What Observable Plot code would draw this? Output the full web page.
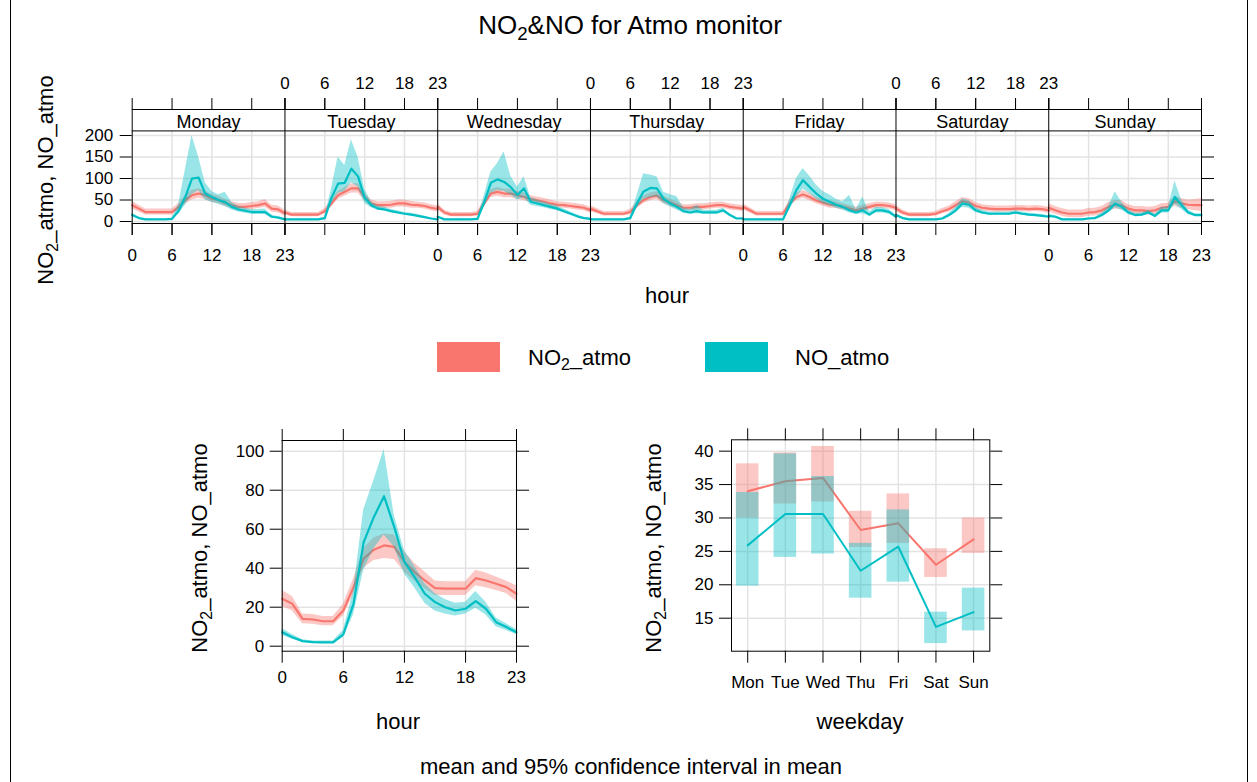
<!DOCTYPE html>
<html><head><meta charset="utf-8">
<script src="https://cdn.jsdelivr.net/npm/d3@7"></script>
<script src="https://cdn.jsdelivr.net/npm/@observablehq/plot@0.6"></script>
<style>
body{margin:0;background:#fff;font-family:"Liberation Sans",Arial,sans-serif;}
#page{position:relative;width:1257px;height:782px;overflow:hidden;background:#fff;}
.abs{position:absolute;}
.txt{position:absolute;white-space:nowrap;color:#000;transform:translate(-50%,-50%);line-height:1;}
.rot{transform:translate(-50%,-50%) rotate(-90deg);}
sub{font-size:0.72em;vertical-align:-0.3em;line-height:0;}
svg{overflow:visible;}
</style></head><body>
<div id="page">
  <div class="abs" style="left:10px;top:-1px;width:1236px;height:800px;border:1px solid #000;"></div>
  <div class="txt" style="left:630px;top:25px;font-size:26px;">NO<sub>2</sub>&amp;NO for Atmo monitor</div>
  <div id="topPlot" class="abs" style="left:0;top:60px;"></div>
  <div class="txt rot" style="left:46px;top:180px;font-size:22px;">NO<sub>2</sub>_atmo, NO_atmo</div>
  <div class="txt" style="left:667px;top:296px;font-size:22px;">hour</div>
  <div class="abs" style="left:437px;top:342px;width:63px;height:30px;background:#F8766D;"></div>
  <div class="abs" style="left:528px;top:345px;font-size:22px;white-space:nowrap;">NO<sub>2</sub>_atmo</div>
  <div class="abs" style="left:705px;top:342px;width:63px;height:30px;background:#00BFC4;"></div>
  <div class="abs" style="left:795px;top:345px;font-size:22px;white-space:nowrap;">NO_atmo</div>
  <div id="hourPlot" class="abs" style="left:180px;top:420px;"></div>
  <div id="wdayPlot" class="abs" style="left:620px;top:420px;"></div>
  <div class="txt rot" style="left:200px;top:548px;font-size:22px;">NO<sub>2</sub>_atmo, NO_atmo</div>
  <div class="txt rot" style="left:654px;top:548px;font-size:22px;">NO<sub>2</sub>_atmo, NO_atmo</div>
  <div class="txt" style="left:398px;top:722px;font-size:22px;">hour</div>
  <div class="txt" style="left:860px;top:722px;font-size:22px;">weekday</div>
  <div class="txt" style="left:631px;top:767px;font-size:22px;">mean and 95% confidence interval in mean</div>
</div>
<script>
// ---------- categories & ticks ----------
const days = ["Monday","Tuesday","Wednesday","Thursday","Friday","Saturday","Sunday"];
const dayAbbr = ["Mon","Tue","Wed","Thu","Fri","Sat","Sun"];
const hours = [0,1,2,3,4,5,6,7,8,9,10,11,12,13,14,15,16,17,18,19,20,21,22,23];
const hourTicks = [0,6,12,18,23];
const yTicksTop = [0,50,100,150,200];
const yTicksHour = [0,20,40,60,80,100];
const yTicksWday = [15,20,25,30,35,40];
const RED = "#F8766D", TEAL = "#00BFC4";

// ---------- top panel: hour by weekday ----------
const no2_Mon   = [38,30,22,22,22,22,22,34,50,61,65,61,53,50,43,38,34,34,36,38,42,30,28,19];
const no2hw_Mon = [9,8,7,7,7,7,7,8,10,11,11,10,9,9,8,8,8,8,8,8,9,8,8,7];
const no_Mon    = [15,8,5,5,5,5,6,25,57,100,102,65,57,50,45,34,28,25,22,22,22,11,9,5];
const noLo_Mon  = [12,6,4,4,4,4,5,17,38,62,72,50,45,40,35,27,22,19,17,17,16,8,7,4];
const noHi_Mon  = [19,10,6,6,6,6,8,40,120,200,150,90,70,62,68,44,35,31,28,28,29,15,11,7];

const no2_Tue   = [21,16,16,16,16,16,24,42,61,69,77,77,57,42,38,38,39,42,42,39,38,36,32,29];
const no2hw_Tue = [6,5,5,5,5,5,6,8,9,10,11,11,9,8,8,8,8,8,8,8,7,7,7,7];
const no_Tue    = [5,5,5,5,5,5,8,55,88,90,123,105,55,38,30,28,24,21,18,16,13,10,7,5];
const noLo_Tue  = [4,4,4,4,4,4,6,40,65,70,90,80,42,32,26,24,20,18,15,13,11,8,6,4];
const noHi_Tue  = [6,6,6,6,6,6,10,75,150,130,190,150,75,46,36,33,28,25,21,19,16,12,8,6];

const no2_Wed   = [34,21,16,16,16,16,18,42,65,69,65,65,61,57,52,49,46,42,39,38,36,34,32,26];
const no2hw_Wed = [7,6,5,5,5,5,5,8,9,10,10,10,9,9,8,8,8,8,7,7,7,7,7,7];
const no_Wed    = [11,5,5,5,5,5,6,45,90,98,92,80,62,77,46,42,38,34,30,24,18,12,8,6];
const noLo_Wed  = [9,4,4,4,4,4,5,32,65,72,70,62,50,55,38,35,32,28,25,20,15,10,7,5];
const noHi_Wed  = [13,6,6,6,6,6,8,60,115,135,162,105,80,104,56,50,45,40,36,29,22,15,10,8];

const no2_Thu   = [30,24,18,18,18,18,22,38,50,57,60,50,44,38,32,32,34,34,36,38,38,34,32,30];
const no2hw_Thu = [7,6,5,5,5,5,6,8,9,9,9,9,8,8,7,7,7,7,7,7,7,7,7,7];
const no_Thu    = [5,5,5,5,5,5,8,42,70,78,77,53,42,34,24,21,24,21,21,21,26,15,7,7];
const noLo_Thu  = [4,4,4,4,4,4,6,30,52,55,58,42,34,27,19,17,18,17,17,17,21,12,6,6];
const noHi_Thu  = [6,6,6,6,6,6,10,60,111,108,104,68,62,58,32,28,38,26,26,26,31,18,8,8];

const no2_Fri   = [34,26,18,18,18,18,18,42,57,63,57,49,44,39,38,34,30,26,30,34,38,38,36,32];
const no2hw_Fri = [7,6,5,5,5,5,5,8,9,9,9,8,8,8,8,7,7,7,7,7,7,7,7,7];
const no_Fri    = [5,5,5,5,5,5,5,38,73,96,80,65,53,46,39,34,26,21,26,16,26,26,22,11];
const noLo_Fri  = [4,4,4,4,4,4,4,28,55,75,65,52,42,37,31,27,20,16,18,12,20,20,17,8];
const noHi_Fri  = [6,6,6,6,6,6,6,52,100,123,105,85,70,62,52,46,61,28,57,22,33,32,28,14];

const no2_Sat   = [30,21,16,16,16,16,18,24,29,38,47,44,36,32,30,29,29,29,30,30,29,30,29,26];
const no2hw_Sat = [7,6,5,5,5,5,5,6,7,8,9,9,8,7,7,7,7,7,7,7,7,7,7,7];
const no_Sat    = [15,8,5,5,5,5,5,7,15,26,42,39,26,21,18,18,18,18,21,18,16,15,13,11];
const noLo_Sat  = [12,6,4,4,4,4,4,5,11,20,33,31,21,17,15,15,15,15,17,15,13,12,11,9];
const noHi_Sat  = [18,10,6,6,6,6,6,9,19,33,53,48,32,26,22,22,22,22,25,22,19,18,16,13];

const no2_Sun   = [32,26,21,18,18,18,21,22,26,34,39,38,30,26,26,24,26,32,34,47,42,39,38,38];
const no2hw_Sun = [9,9,9,9,9,9,9,9,9,10,10,10,9,9,9,9,9,9,9,11,11,11,13,15];
const no_Sun    = [13,11,5,5,5,5,7,8,15,26,42,34,21,15,16,21,13,26,26,57,38,21,15,15];
const noLo_Sun  = [10,8,4,4,4,4,5,6,11,19,32,26,16,12,13,17,10,20,20,40,28,16,12,12];
const noHi_Sun  = [16,14,6,6,6,6,9,10,20,34,69,45,27,19,20,26,17,33,33,94,50,27,18,18];

// ---------- bottom-left: hour of day ----------
const no2Hour   = [24.3,21.7,14,13.7,12.8,12.8,18.3,30.3,44.9,49.5,51.7,50.9,43.2,38,33.7,29.8,29.5,29.5,29.5,34.9,33.7,32,30.3,26.9];
const no2HourLo = [20.5,18,11.5,11.3,10.5,10.5,15.5,26.5,40,44,45,44.5,38,33.5,29.5,26,26,26,26,31,30,28.5,27,23];
const no2HourHi = [28.5,25.5,16.5,16.2,15.2,15.2,21.5,34.5,50,55.5,57.5,57,48.5,42.5,38,33.5,33,33,33,39,37.5,35.5,33.5,31];
const noHour    = [7.2,4.6,2.6,2.1,2,2,6,21.7,53.4,66.3,76.9,61.1,43.2,35.4,26.9,22.6,20,18.3,19.2,23.1,19.2,12.3,9.8,7.2];
const noHourLo  = [5.5,3.5,2,1.6,1.5,1.5,4.5,16,39,50,57,51,37,30,22,18,16.5,15.5,16.5,19.5,16,10,8,6];
const noHourHi  = [9,6,3.3,2.7,2.6,2.6,8,28,70,85,101,67,49,41,32,27,24,22,22.5,28,22.5,14.5,11.5,8.5];

// ---------- bottom-right: weekday ----------
const no2Wday   = [34.0,35.5,36.0,28.2,29.2,23.0,26.8];
const no2WdayLo = [30.0,32.1,32.4,25.6,26.2,21.1,24.7];
const no2WdayHi = [38.1,39.75,40.7,31.0,33.6,25.4,30.0];
const noWday    = [25.9,30.6,30.6,22.1,25.7,13.7,15.9];
const noWdayLo  = [19.8,24.1,24.6,18.0,20.4,11.2,13.1];
const noWdayHi  = [33.8,39.6,36.2,26.2,31.2,15.9,19.5];

// ---------- build tables ----------
const no2ByDay = [[no2_Mon,no2hw_Mon],[no2_Tue,no2hw_Tue],[no2_Wed,no2hw_Wed],[no2_Thu,no2hw_Thu],[no2_Fri,no2hw_Fri],[no2_Sat,no2hw_Sat],[no2_Sun,no2hw_Sun]];
const noByDay = [[no_Mon,noLo_Mon,noHi_Mon],[no_Tue,noLo_Tue,noHi_Tue],[no_Wed,noLo_Wed,noHi_Wed],[no_Thu,noLo_Thu,noHi_Thu],[no_Fri,noLo_Fri,noHi_Fri],[no_Sat,noLo_Sat,noHi_Sat],[no_Sun,noLo_Sun,noHi_Sun]];
const SPAN = hours[hours.length-1]; // 23 hours per panel
const topNO2 = [], topNO = [];
days.forEach((d, i) => {
  const [m, hw] = no2ByDay[i];
  const [n, lo, hi] = noByDay[i];
  hours.forEach((h, k) => {
    topNO2.push({x: i*SPAN + h, day: d, y: m[k], lo: m[k]-hw[k], hi: m[k]+hw[k]});
    topNO.push({x: i*SPAN + h, day: d, y: n[k], lo: lo[k], hi: hi[k]});
  });
});
const hourNO2 = hours.map((h,k)=>({h, y:no2Hour[k], lo:no2HourLo[k], hi:no2HourHi[k]}));
const hourNO  = hours.map((h,k)=>({h, y:noHour[k], lo:noHourLo[k], hi:noHourHi[k]}));
const wdNO2 = dayAbbr.map((d,i)=>({i, d, y:no2Wday[i], lo:no2WdayLo[i], hi:no2WdayHi[i]}));
const wdNO  = dayAbbr.map((d,i)=>({i, d, y:noWday[i], lo:noWdayLo[i], hi:noWdayHi[i]}));

const FS = 17;
const STYLE = {fontFamily:'"Liberation Sans", Arial, sans-serif', fontSize:FS+"px", color:"#000", background:"transparent", overflow:"visible"};
const GRID = "#e3e3e3";
const ax = (o) => Object.assign({tickSize:12, label:null, fontSize:FS}, o);
const noText = () => "";

// ---------- top plot ----------
const yBot = -4.65, ySplit = 210.7, yTop = 260.5;
const allTicks = [], botLab = new Map(), topLab = new Map(), gridX = [], dividers = [];
days.forEach((d,i)=>{
  hourTicks.forEach(h=>{
    const v = i*SPAN + h;
    allTicks.push(v);
    if (i % 2 === 0) botLab.set(v, String(h)); else topLab.set(v, String(h));
    if (h > 0 && h < SPAN) gridX.push(v);
  });
  if (i > 0) dividers.push(i*SPAN);
});
const topChart = Plot.plot({
  width:1257, height:210, marginLeft:131.7, marginRight:56, marginTop:49, marginBottom:47,
  style:STYLE,
  x:{domain:[0, days.length*SPAN], axis:null, label:null},
  y:{domain:[yBot, yTop], axis:null, label:null},
  marks:[
    Plot.ruleY(yTicksTop, {stroke:GRID, strokeWidth:1.5}),
    Plot.ruleX(gridX, {y1:yBot, y2:ySplit, stroke:GRID, strokeWidth:1.5}),
    Plot.areaY(topNO2, {x:"x", y1:"lo", y2:"hi", z:"day", fill:RED, fillOpacity:0.4}),
    Plot.line(topNO2, {x:"x", y:"y", z:"day", stroke:RED, strokeWidth:2.2}),
    Plot.areaY(topNO, {x:"x", y1:"lo", y2:"hi", z:"day", fill:TEAL, fillOpacity:0.4}),
    Plot.line(topNO, {x:"x", y:"y", z:"day", stroke:TEAL, strokeWidth:2.2}),
    Plot.ruleX(dividers, {stroke:"#000"}),
    Plot.ruleY([ySplit], {stroke:"#000"}),
    Plot.text(days, {x:(d,i)=>i*SPAN + SPAN/2, y:(ySplit+yTop)/2, text:d=>d, fontSize:18, dy:2}),
    Plot.frame({stroke:"#000"}),
    Plot.axisX(allTicks, ax({anchor:"bottom", tickFormat:noText})),
    Plot.axisX([...botLab.keys()], ax({anchor:"bottom", tickPadding:13, tickFormat:v=>botLab.get(v)})),
    Plot.axisX(allTicks, ax({anchor:"top", tickFormat:noText})),
    Plot.axisX([...topLab.keys()], ax({anchor:"top", tickPadding:9, tickFormat:v=>topLab.get(v)})),
    Plot.axisY(yTicksTop, ax({anchor:"left", tickPadding:7})),
    Plot.axisY(yTicksTop, ax({anchor:"right", tickFormat:noText}))
  ]
});
document.getElementById("topPlot").append(topChart);

// ---------- hour plot ----------
const hourChart = Plot.plot({
  width:380, height:290, marginLeft:101.7, marginRight:44, marginTop:20, marginBottom:59.3,
  style:STYLE,
  x:{domain:[0,23], axis:null, label:null},
  y:{domain:[-2.57,105.5], axis:null, label:null},
  marks:[
    Plot.ruleX(hourTicks, {stroke:GRID, strokeWidth:1.5}),
    Plot.ruleY(yTicksHour, {stroke:GRID, strokeWidth:1.5}),
    Plot.areaY(hourNO2, {x:"h", y1:"lo", y2:"hi", fill:RED, fillOpacity:0.4}),
    Plot.line(hourNO2, {x:"h", y:"y", stroke:RED, strokeWidth:2.2}),
    Plot.areaY(hourNO, {x:"h", y1:"lo", y2:"hi", fill:TEAL, fillOpacity:0.4}),
    Plot.line(hourNO, {x:"h", y:"y", stroke:TEAL, strokeWidth:2.2}),
    Plot.frame({stroke:"#000"}),
    Plot.axisX(hourTicks, ax({anchor:"bottom", tickPadding:8})),
    Plot.axisX(hourTicks, ax({anchor:"top", tickFormat:noText})),
    Plot.axisY(yTicksHour, ax({anchor:"left", tickPadding:6})),
    Plot.axisY(yTicksHour, ax({anchor:"right", tickFormat:noText}))
  ]
});
document.getElementById("hourPlot").append(hourChart);

// ---------- weekday plot ----------
const wdIdx = dayAbbr.map((d,i)=>i);
const wdayChart = Plot.plot({
  width:420, height:290, marginLeft:111, marginRight:50.7, marginTop:19.3, marginBottom:59.3,
  style:STYLE,
  x:{domain:[-0.43, 6.43], axis:null, label:null},
  y:{domain:[10.06, 41.7], axis:null, label:null},
  marks:[
    Plot.ruleX(wdIdx, {stroke:GRID, strokeWidth:1.5}),
    Plot.ruleY(yTicksWday, {stroke:GRID, strokeWidth:1.5}),
    Plot.rect(wdNO2, {x1:d=>d.i-0.3, x2:d=>d.i+0.3, y1:"lo", y2:"hi", fill:RED, fillOpacity:0.4}),
    Plot.line(wdNO2, {x:"i", y:"y", stroke:RED, strokeWidth:2}),
    Plot.rect(wdNO, {x1:d=>d.i-0.3, x2:d=>d.i+0.3, y1:"lo", y2:"hi", fill:TEAL, fillOpacity:0.4}),
    Plot.line(wdNO, {x:"i", y:"y", stroke:TEAL, strokeWidth:2}),
    Plot.frame({stroke:"#000"}),
    Plot.axisX(wdIdx, ax({anchor:"bottom", tickPadding:13, tickFormat:i=>dayAbbr[i]})),
    Plot.axisX(wdIdx, ax({anchor:"top", tickFormat:noText})),
    Plot.axisY(yTicksWday, ax({anchor:"left", tickPadding:6})),
    Plot.axisY(yTicksWday, ax({anchor:"right", tickFormat:noText}))
  ]
});
document.getElementById("wdayPlot").append(wdayChart);
</script>
</body></html>
